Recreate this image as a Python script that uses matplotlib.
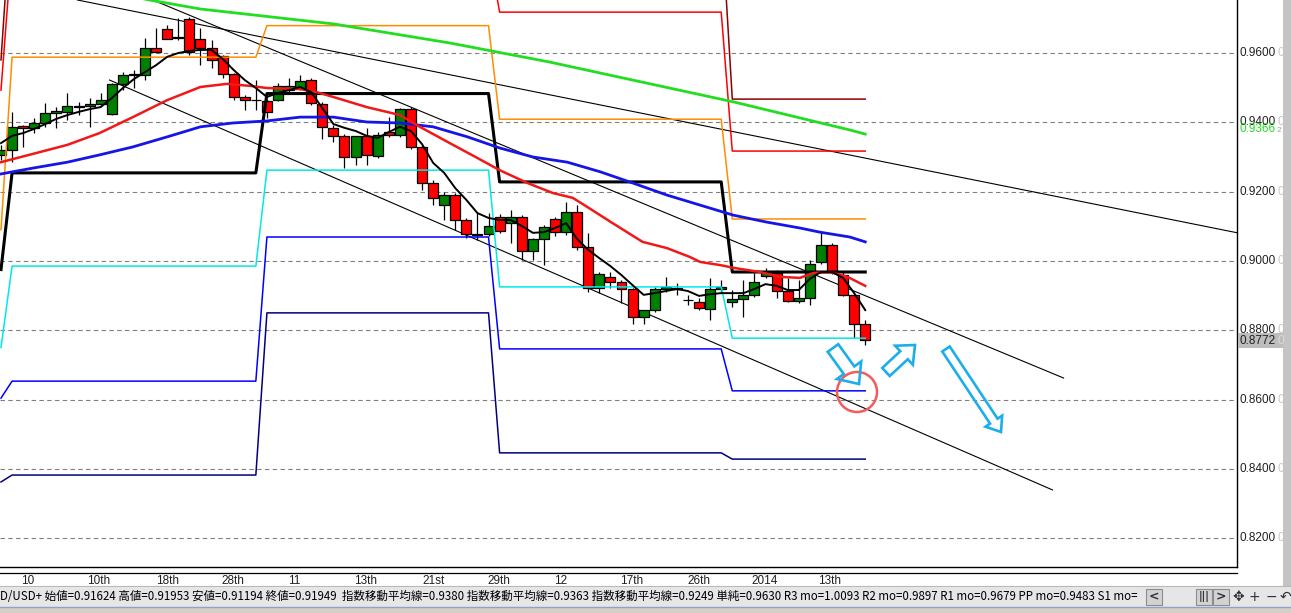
import matplotlib
matplotlib.use('Agg')
import matplotlib.pyplot as plt
import matplotlib.patches as patches
import matplotlib.transforms as mtransforms
from matplotlib.lines import Line2D
import numpy as np

# daily candles, AUD/USD, end of Sep 2013 .. mid Jan 2014
opens = [.9306, .9320, .9389, .9383, .9398, .9427, .9430, .9444, .9447, .9453,
         .9424, .9510, .9537, .9537, .9614, .9669, .9646, .9698, .9640, .9614,
         .9591, .9539, .9473, .9464, .9461, .9464, .9493, .9499, .9522, .9453,
         .9383, .9360, .9300, .9360, .9303, .9372, .9363, .9438, .9329, .9225,
         .9161, .9190, .9118, .9078, .9078, .9127, .9109, .9127, .9029, .9063,
         .9121, .9083, .9141, .9040, .8922, .8954, .8939, .8919, .8838, .8858,
         .8919, .8922, .8887, .8881, .8861, .8919, .8881, .8890, .8902, .8956,
         .8965, .8913, .8884, .8893, .8997, .9046, .8959, .8902, .8818]
highs = [.9335, .9430, .9392, .9412, .9456, .9444, .9485, .9459, .9470, .9485,
         .9513, .9545, .9551, .9643, .9672, .9681, .9701, .9704, .9672, .9638,
         .9594, .9542, .9479, .9522, .9467, .9513, .9528, .9537, .9528, .9459,
         .9392, .9366, .9320, .9383, .9372, .9415, .9441, .9444, .9335, .9234,
         .9199, .9196, .9124, .9141, .9138, .9135, .9147, .9132, .9066, .9104,
         .9127, .9170, .9161, .9081, .8968, .8968, .8945, .8922, .8858, .8925,
         .8954, .8936, .8902, .8893, .8951, .8945, .8916, .8945, .8965, .8980,
         .8974, .8951, .8945, .9003, .9083, .9052, .8968, .8905, .8830]
lows = [.9291, .9285, .9329, .9369, .9386, .9383, .9407, .9421, .9386, .9450,
        .9421, .9493, .9499, .9522, .9603, .9640, .9637, .9594, .9565, .9557,
        .9528, .9464, .9436, .9436, .9412, .9461, .9487, .9493, .9450, .9352,
        .9343, .9268, .9277, .9277, .9297, .9357, .9357, .9323, .9205, .9161,
        .9118, .9089, .9066, .9060, .9072, .9081, .9052, .9003, .9003, .8988,
        .9072, .9075, .9032, .8910, .8907, .8922, .8878, .8818, .8818, .8853,
        .8910, .8902, .8873, .8858, .8829, .8910, .8867, .8838, .8896, .8951,
        .8893, .8881, .8878, .8873, .8991, .8962, .8899, .8778, .8757]
closes = [.9320, .9387, .9383, .9398, .9427, .9433, .9447, .9447, .9453, .9464,
          .9510, .9537, .9539, .9614, .9603, .9640, .9643, .9603, .9614, .9580,
          .9539, .9473, .9464, .9463, .9430, .9505, .9505, .9519, .9456, .9387,
          .9360, .9300, .9360, .9306, .9363, .9363, .9438, .9329, .9225, .9182,
          .9190, .9118, .9078, .9076, .9101, .9086, .9127, .9029, .9063, .9098,
          .9083, .9141, .9040, .8922, .8962, .8939, .8919, .8838, .8858, .8919,
          .8925, .8920, .8886, .8864, .8919, .8925, .8890, .8902, .8939, .8965,
          .8913, .8884, .8893, .8991, .9046, .8968, .8902, .8818, .8772]

# short EMA, one value per candle
ema_fast = [.9340, .9361, .9369, .9381, .9395, .9410, .9421, .9430, .9438, .9444,
            .9470, .9499, .9525, .9545, .9565, .9589, .9600, .9606, .9609, .9609,
            .9583, .9551, .9522, .9499, .9473, .9485, .9493, .9502, .9487, .9441,
            .9395, .9384, .9375, .9361, .9355, .9372, .9387, .9375, .9337, .9283,
            .9254, .9210, .9176, .9138, .9124, .9118, .9118, .9101, .9081, .9083,
            .9095, .9109, .9063, .9032, .9008, .8985, .8959, .8930, .8902, .8907,
            .8913, .8919, .8913, .8899, .8904, .8907, .8907, .8907, .8919, .8933,
            .8928, .8916, .8916, .8948, .8968, .8968, .8951, .8907, .8858]

# medium EMA (red), read at some candles
ema_mid_x = [0, 2.9, 6.0, 8.9, 11.9, 15.0, 18.0, 20.4, 22.5, 24.0, 27.0, 28.5, 30.0,
             33.0, 36.0, 37.8, 40.5, 43.0, 45.0, 47.5, 49.8, 51.6, 52.9, 55.2, 57.9,
             60.1, 62.2, 63.1, 64.9, 66.1, 68.5, 70.3, 72.1, 73.3, 74.8, 76.4, 78.0]
ema_mid = [.9285, .9309, .9335, .9369, .9415, .9464, .9502, .9511, .9505, .9499, .9496,
           .9487, .9473, .9444, .9421, .9387, .9340, .9297, .9262, .9225, .9196, .9182,
           .9156, .9109, .9055, .9037, .9011, .8997, .8988, .8980, .8968, .8954, .8951,
           .8965, .8968, .8954, .8928]

# long EMA (blue)
ema_slow_x = [0, 2.9, 6.0, 8.9, 11.9, 15.0, 18.0, 20.9, 24.0, 27.0, 30.0, 33.0, 36.0,
              39.0, 42.1, 45.0, 48.0, 51.1, 54.1, 57.0, 60.1, 63.1, 66.1, 69.1, 72.1,
              73.9, 76.6, 78.0]
ema_slow = [.9251, .9268, .9285, .9306, .9329, .9358, .9387, .9398, .9404, .9415, .9415,
            .9401, .9398, .9387, .9358, .9326, .9300, .9285, .9257, .9225, .9190, .9161,
            .9132, .9112, .9095, .9083, .9069, .9055]

# simple MA (green)
sma_x = [0, 13.4, 18.0, 30.0, 40.5, 49.5, 57.0, 66.1, 76.6, 78.0]
sma = [.9840, .9753, .9727, .9684, .9629, .9574, .9522, .9459, .9378, .9366]

# monthly pivots: Sep, Oct, Nov, Dec, Jan
month_days = [1, 23, 21, 21, 13]
piv_r3 = [0.9580, 1.0056, 1.0093, 1.0000, 0.9467]
piv_r2 = [0.9493, 0.9909, 0.9897, 0.9718, 0.9317]
piv_r1 = [0.9090, 0.9588, 0.9679, 0.9409, 0.9121]
piv_pp = [0.8975, 0.9254, 0.9483, 0.9228, 0.8968]
piv_s1 = [0.8750, 0.8985, 0.9262, 0.8925, 0.8777]
piv_s2 = [0.8604, 0.8653, 0.9069, 0.8746, 0.8625]
piv_s3 = [0.8362, 0.8382, 0.8850, 0.8446, 0.8428]

# trend lines (candle index, price)
trend_lines = [((6.9, 0.9753), (111.6, 0.9081)),
               ((13.7, 0.9753), (95.9, 0.8662)),
               ((9.8, 0.9522), (94.9, 0.8339))]

price_ticks = [0.82, 0.84, 0.86, 0.88, 0.90, 0.92, 0.94, 0.96]
date_labels = ['10', '10th', '18th', '28th', '11', '13th', '21st', '29th', '12',
               '17th', '26th', '2014', '13th']
date_pos = [2.44, 8.85, 15.0, 20.9, 26.5, 32.9, 39.0, 44.9, 50.5, 56.9, 63.0, 68.9, 74.8]

last_price = 0.8772
sma_last = 0.9366
status_text = ('D/USD+ 始値=0.91624 高値=0.91953 安値=0.91194 終値=0.91949  '
               '指数移動平均線=0.9380 指数移動平均線=0.9363 指数移動平均線=0.9249 '
               '単純=0.9630 R3 mo=1.0093 R2 mo=0.9897 R1 mo=0.9679 PP mo=0.9483 S1 mo=')

W, H = 1291, 613
fig = plt.figure(figsize=(W / 100, H / 100), dpi=100)
fig.patch.set_facecolor('white')
# pixel coordinates, origin top-left
pix = mtransforms.Affine2D().scale(1.0 / W, -1.0 / H).translate(0, 1) + fig.transFigure

ax = fig.add_axes([0, (H - 567) / H, 1237 / W, 567 / H])
ax.set_xlim(-0.09, 111.55)
ax.set_ylim(0.81166, 0.97530)
ax.set_xticks([])
ax.set_yticks([])
for s in ['top', 'left']:
    ax.spines[s].set_visible(False)
for s in ['right', 'bottom']:
    ax.spines[s].set_color('black')
    ax.spines[s].set_linewidth(1.0)

for p in price_ticks:
    ax.axhline(p, color='#808080', lw=0.8, ls=(0, (4, 3)), zorder=1)

# trend lines
for (x0, y0), (x1, y1) in trend_lines:
    ax.plot([x0, x1], [y0, y1], color='black', lw=0.8, zorder=2)

# pivots, one value per candle so the month change is a slanted step
def per_candle(levels):
    out = []
    for lv, n in zip(levels, month_days):
        out += [lv] * n
    return out

idx = np.arange(len(closes))
piv_styles = [(piv_r3, '#8B0000', 1.1), (piv_r2, '#FF0000', 1.1), (piv_r1, '#FF8C00', 1.1),
              (piv_s1, '#00E8E8', 1.1), (piv_s2, '#0000FF', 1.1), (piv_s3, '#000080', 1.1),
              (piv_pp, 'black', 2.2)]
for lv, col, lw in piv_styles:
    ax.plot(idx, per_candle(lv), color=col, lw=lw, zorder=4)

# candles
for i in range(len(closes)):
    o, h, l, c = opens[i], highs[i], lows[i], closes[i]
    ax.vlines(i, l, h, color='black', lw=0.9, zorder=3)
    col = '#008000' if c >= o else '#FF0000'
    ax.add_patch(patches.Rectangle((i - 0.45, min(o, c)), 0.9, abs(c - o),
                                   facecolor=col, edgecolor='black', lw=0.9, zorder=3))

ax.plot(sma_x, sma, color='#22DD22', lw=2.0, zorder=5)
ax.plot(ema_slow_x, ema_slow, color='#1515E6', lw=2.0, zorder=5)
ax.plot(ema_mid_x, ema_mid, color='#F01818', lw=1.8, zorder=5)
ax.plot(idx, ema_fast, color='black', lw=1.4, zorder=6)

# second line under the chart
fig.add_artist(Line2D([0, 1237], [572.5, 572.5], color='black', lw=0.9, transform=pix))

lab_font = dict(family='Liberation Sans', fontsize=8.5)
ytr = mtransforms.blended_transform_factory(pix, ax.transData)
for p in price_ticks:
    ax.text(1240, p, '%.4f' % p, transform=ytr, va='center', ha='left',
            color='#202020', clip_on=False, **lab_font)
    ax.text(1277, p, '0', transform=ytr, va='center', ha='left',
            color='#C8C8C8', clip_on=False, **lab_font)

# green SMA value label and current price box
fig.text(1240, 129, '%.4f' % sma_last, transform=pix, va='center', ha='left',
         color='#22DD22', **lab_font)
fig.text(1277, 130, '2', transform=pix, va='center', ha='left', color='#A0A0A0',
         fontsize=6, family='Liberation Sans')
fig.add_artist(patches.Rectangle((1238, 333), 45, 15, transform=pix,
                                 facecolor='#BDBDBD', edgecolor='none'))
fig.text(1240, 340.5, '%.4f' % last_price, transform=pix, va='center', ha='left',
         color='#202020', **lab_font)
fig.text(1277, 340.5, '0', transform=pix, va='center', ha='left', color='#DADADA', **lab_font)

xtr = mtransforms.blended_transform_factory(ax.transData, pix)
for pos, lab in zip(date_pos, date_labels):
    ax.text(pos, 581, lab, transform=xtr, ha='center', va='center',
            color='#202020', clip_on=False, **lab_font)

# annotations: red circle and hollow arrows
fig.add_artist(patches.Circle((857, 392), 20, transform=pix, fill=False,
                              edgecolor='#F25C5C', lw=1.8))

def block_arrow(tail, tip, shaft_w, head_w, head_l):
    tail = np.array(tail, float)
    tip = np.array(tip, float)
    d = tip - tail
    u = d / np.hypot(d[0], d[1])
    n = np.array([-u[1], u[0]])
    base = tip - u * head_l
    pts = [tail + n * shaft_w / 2, base + n * shaft_w / 2, base + n * head_w / 2, tip,
           base - n * head_w / 2, base - n * shaft_w / 2, tail - n * shaft_w / 2]
    return patches.Polygon(pts, closed=True, fill=False, edgecolor='#1CAEEA', lw=1.9,
                           joinstyle='miter', transform=pix)

fig.add_artist(block_arrow((833, 348), (859, 384), 13, 30, 17))
fig.add_artist(block_arrow((886, 372), (915, 345), 11, 26, 15))
fig.add_artist(block_arrow((946, 349), (1001, 432), 9, 20, 13))

# window chrome: right strip and status bar
fig.add_artist(patches.Rectangle((1283, 0), 8, 586, transform=pix,
                                 facecolor='#C4C4C4', edgecolor='none'))
fig.add_artist(patches.Rectangle((0, 586), W, 21, transform=pix,
                                 facecolor='#E6E6E6', edgecolor='none'))
fig.add_artist(patches.Rectangle((0, 607), W, 6, transform=pix,
                                 facecolor='#D4D0C8', edgecolor='none'))
fig.add_artist(Line2D([0, W], [606.5, 606.5], color='#8FA3C8', lw=1.0, transform=pix))
fig.add_artist(Line2D([0, W], [586, 586], color='#B8B8B8', lw=0.8, transform=pix))

ax_st = fig.add_axes([0, (H - 606) / H, 1142 / W, 19 / H])
ax_st.set_zorder(10)
ax_st.set_facecolor('#E6E6E6')
ax_st.set_xticks([])
ax_st.set_yticks([])
for s in ax_st.spines.values():
    s.set_visible(False)
ax_st.text(0.0, 0.5, status_text, transform=ax_st.transAxes, ha='left', va='center',
           fontsize=8.3, family=['Noto Sans CJK JP', 'DejaVu Sans'], color='black', clip_on=True)

for x0, sym in [(1146, '<'), (1196, '|||'), (1213, '>')]:
    fig.add_artist(patches.Rectangle((x0, 589), 16, 16, transform=pix,
                                     facecolor='#D2D2D2', edgecolor='#8C8C8C', lw=0.8))
    fig.text(x0 + 8, 597, sym, transform=pix, ha='center', va='center',
             fontsize=7 if sym == '|||' else 9, color='#303030', weight='bold',
             family='DejaVu Sans')
for x0, sym in [(1238, '✥'), (1254, '+'), (1271, '−'), (1285, '↶')]:
    fig.text(x0, 597, sym, transform=pix, ha='center', va='center', fontsize=10,
             color='#303030', family='DejaVu Sans')

fig.savefig('out.png', dpi=100)
